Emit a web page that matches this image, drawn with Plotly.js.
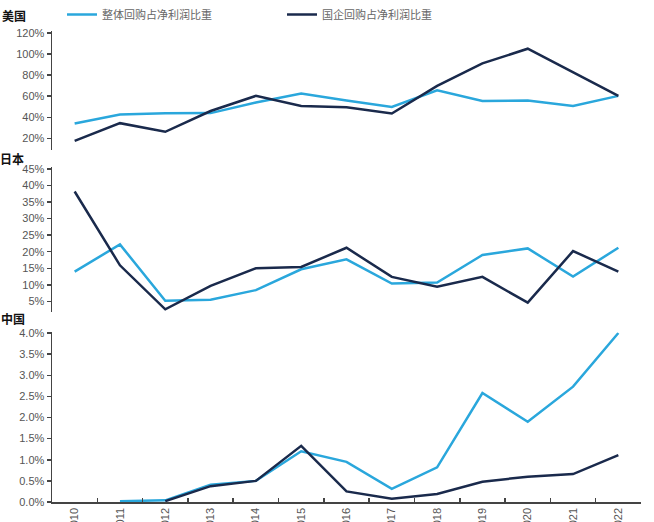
<!DOCTYPE html>
<html>
<head>
<meta charset="utf-8">
<script src="https://cdn.plot.ly/plotly-3.0.1.min.js"></script>
<style>html,body{margin:0;padding:0;background:#fff;}#chart{width:654px;height:522px;}</style>
</head>
<body>
<div id="chart"></div>
<script>
const years = ['2010','2011','2012','2013','2014','2015','2016','2017','2018','2019','2020','2021','2022'];
const seriesNames = ['整体回购占净利润比重', '国企回购占净利润比重'];
const panelLabels = ['美国', '日本', '中国'];

// 美国 (%)
const usTotal = [34.2, 42.6, 43.9, 44.0, 54.0, 62.5, 56.0, 49.9, 65.6, 55.5, 56.0, 50.8, 60.3];
const usSoe   = [17.8, 34.5, 26.3, 46.0, 60.3, 50.8, 49.5, 43.6, 69.7, 91.0, 104.9, 82.3, 60.3];
// 日本 (%)
const jpTotal = [14.0, 22.2, 5.2, 5.5, 8.4, 14.7, 17.7, 10.4, 10.7, 19.0, 21.0, 12.5, 21.2];
const jpSoe   = [38.2, 15.9, 2.6, 9.7, 15.0, 15.4, 21.2, 12.4, 9.4, 12.4, 4.6, 20.2, 14.0];
// 中国 (%)
const cnTotal = [null, 0.02, 0.04, 0.41, 0.50, 1.20, 0.95, 0.31, 0.82, 2.58, 1.90, 2.73, 4.00];
const cnSoe   = [null, null, 0.02, 0.375, 0.50, 1.33, 0.25, 0.08, 0.19, 0.48, 0.60, 0.66, 1.11];

const usTicks = [20, 40, 60, 80, 100, 120];
const jpTicks = [5, 10, 15, 20, 25, 30, 35, 40, 45];
const cnTicks = [0, 0.5, 1.0, 1.5, 2.0, 2.5, 3.0, 3.5, 4.0];

const cLight = '#2aa7dc';
const cDark = '#1a2a4c';

function tr(y, color, xa, ya, name, show) {
  return {x: years, y: y, type: 'scatter', mode: 'lines', name: name, showlegend: show,
    line: {color: color, width: 2.5}, xaxis: xa, yaxis: ya, cliponaxis: false, connectgaps: false};
}

const data = [
  tr(usTotal, cLight, 'x', 'y', seriesNames[0], true),
  tr(usSoe, cDark, 'x', 'y', seriesNames[1], true),
  tr(jpTotal, cLight, 'x2', 'y2', seriesNames[0], false),
  tr(jpSoe, cDark, 'x2', 'y2', seriesNames[1], false),
  tr(cnTotal, cLight, 'x3', 'y3', seriesNames[0], false),
  tr(cnSoe, cDark, 'x3', 'y3', seriesNames[1], false)
];

const tickFont = {family: 'Liberation Sans, Arial, sans-serif', size: 11, color: '#555'};
function yax(domain, range, ticks, fmt) {
  return {domain: domain, range: range, tickvals: ticks,
    ticktext: ticks.map(v => (fmt ? v.toFixed(1) : String(v)) + '%'),
    showgrid: false, zeroline: false, showline: true, linecolor: '#444', linewidth: 1.5,
    ticks: 'outside', ticklen: 4, tickcolor: '#444', tickwidth: 1.5, tickfont: tickFont, fixedrange: true};
}
function xhidden(anchor) {
  return {type: 'category', range: [-0.5, 12.5], anchor: anchor, visible: false, showgrid: false, zeroline: false};
}

const layout = {
  width: 654, height: 522,
  margin: {l: 52, r: 13, t: 0, b: 20},
  paper_bgcolor: '#fff', plot_bgcolor: '#fff',
  showlegend: true,
  legend: {orientation: 'h', x: 0.017, xanchor: 'left', y: 0.974, yanchor: 'middle',
    font: {family: 'Noto Sans CJK SC, sans-serif', size: 11, color: '#666'},
    entrywidth: 175, entrywidthmode: 'pixels', bgcolor: 'rgba(0,0,0,0)', borderwidth: 0},
  xaxis: xhidden('y'),
  xaxis2: xhidden('y2'),
  xaxis3: {type: 'category', range: [-0.5, 12.5], anchor: 'y3', showgrid: false, zeroline: false,
    showline: true, linecolor: '#444', linewidth: 1.5, ticks: 'inside', ticklen: 4, tickcolor: '#444', tickwidth: 1.5,
    tickson: 'boundaries', tickangle: -90, tickfont: tickFont, automargin: false, fixedrange: true},
  yaxis: yax([0.703, 0.940], [9.3, 121.6], usTicks, false),
  yaxis2: yax([0.380, 0.668], [1.9, 45.5], jpTicks, false),
  yaxis3: yax([0, 0.339], [0, 4.02], cnTicks, true),
  annotations: [
    {text: '<b>' + panelLabels[0] + '</b>', xref: 'paper', yref: 'paper', x: -0.064, y: 0.972, showarrow: false,
      xanchor: 'center', yanchor: 'middle', font: {family: 'Noto Sans CJK SC, sans-serif', size: 12, color: '#111'}},
    {text: '<b>' + panelLabels[1] + '</b>', xref: 'paper', yref: 'paper', x: -0.068, y: 0.685, showarrow: false,
      xanchor: 'center', yanchor: 'middle', font: {family: 'Noto Sans CJK SC, sans-serif', size: 12, color: '#111'}},
    {text: '<b>' + panelLabels[2] + '</b>', xref: 'paper', yref: 'paper', x: -0.066, y: 0.367, showarrow: false,
      xanchor: 'center', yanchor: 'middle', font: {family: 'Noto Sans CJK SC, sans-serif', size: 12, color: '#111'}}
  ]
};

Plotly.newPlot('chart', data, layout, {displayModeBar: false, staticPlot: true});
</script>
</body>
</html>
